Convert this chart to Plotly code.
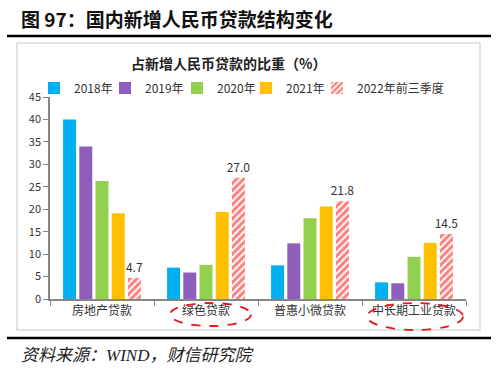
import plotly.graph_objects as go

categories = ["房地产贷款", "绿色贷款", "普惠小微贷款", "中长期工业贷款"]
series_names = ["2018年", "2019年", "2020年", "2021年", "2022年前三季度"]
v2018 = [40.0, 7.0, 7.5, 3.7]
v2019 = [34.0, 5.9, 12.4, 3.5]
v2020 = [26.3, 7.6, 18.0, 9.4]
v2021 = [19.1, 19.4, 20.6, 12.5]
v2022 = [4.7, 27.0, 21.8, 14.5]
y_ticks = [0, 5, 10, 15, 20, 25, 30, 35, 40, 45]

colors = ["#00B0F0", "#8E5EBD", "#92D050", "#FFC000", "#FF0000"]

W, H = 500, 377
L, R, T, B = 50, 466, 97, 299  # plot area in px

def px(x):
    return (x - L) / (R - L)

def py(y):
    return (B - y) / (B - T)

legend_ids = ["legend", "legend2", "legend3", "legend4", "legend5"]
legend_x = [34, 105, 177, 246, 317]

fig = go.Figure()
values = [v2018, v2019, v2020, v2021, v2022]
for i, (name, vals) in enumerate(zip(series_names, values)):
    if i < 4:
        fig.add_trace(go.Bar(x=categories, y=vals, name=name, legend=legend_ids[i],
                             marker=dict(color=colors[i], line=dict(width=0))))
    else:
        fig.add_trace(go.Bar(x=categories, y=vals, name=name, legend=legend_ids[i],
                             marker=dict(color="white", line=dict(width=0),
                                         pattern=dict(shape="/", fgcolor=colors[i],
                                                      bgcolor="white", size=5, solidity=0.6)),
                             text=[f"{v:.1f}" for v in vals], textposition="outside",
                             constraintext="none",
                             textfont=dict(size=12, color="#333333"), cliponaxis=False))

font_cjk = "Noto Sans CJK SC"
shapes = [
    dict(type="line", xref="paper", yref="paper", x0=px(7), x1=px(491), y0=py(36), y1=py(36),
         line=dict(color="black", width=2.5)),
    dict(type="line", xref="paper", yref="paper", x0=px(7), x1=px(491), y0=py(338), y1=py(338),
         line=dict(color="black", width=2.5)),
    dict(type="rect", xref="paper", yref="paper", x0=px(17), x1=px(480), y0=py(43), y1=py(330),
         line=dict(color="#D9D9D9", width=1.5), layer="below"),
    dict(type="circle", xref="paper", yref="paper", x0=px(170), x1=px(251), y0=py(303), y1=py(326),
         line=dict(color="#E8141C", width=1.8, dash="dash")),
    dict(type="circle", xref="paper", yref="paper", x0=px(367), x1=px(463), y0=py(303), y1=py(330),
         line=dict(color="#E8141C", width=1.8, dash="dash")),
]

annotations = [
    dict(text="<b>图 97：国内新增人民币贷款结构变化</b>", xref="paper", yref="paper",
         x=px(19), y=py(18), xanchor="left", yanchor="middle", showarrow=False,
         font=dict(size=19, color="#111111", family=font_cjk)),
    dict(text="<b>占新增人民币贷款的比重（%）</b>", xref="paper", yref="paper",
         x=px(228), y=py(63), xanchor="center", yanchor="middle", showarrow=False,
         font=dict(size=14, color="#222222", family=font_cjk)),
    dict(text="<i>资料来源：WIND，财信研究院</i>", xref="paper", yref="paper",
         x=px(19), y=py(355), xanchor="left", yanchor="middle", showarrow=False,
         font=dict(size=17, color="#222222", family="Liberation Serif, " + font_cjk)),
]

legend_common = dict(orientation="h", y=py(88), xanchor="left", yanchor="middle",
                     font=dict(size=12, color="#333333"), itemwidth=30,
                     tracegroupgap=0, bgcolor="rgba(0,0,0,0)")
legends = {lid: dict(x=px(lx), **legend_common) for lid, lx in zip(legend_ids, legend_x)}

fig.update_layout(
    width=W, height=H,
    margin=dict(l=L, r=W - R, t=T, b=H - B),
    paper_bgcolor="white", plot_bgcolor="white",
    barmode="group", bargap=0.22, bargroupgap=0.2,
    font=dict(family=font_cjk, size=12, color="#333333"),
    showlegend=True,
    shapes=shapes, annotations=annotations,
    xaxis=dict(showline=True, linecolor="#868686", linewidth=1.5, ticks="outside",
               tickson="boundaries", ticklen=5, tickcolor="#868686", showgrid=False,
               tickfont=dict(size=12, color="#333333")),
    yaxis=dict(range=[0, 45], tickvals=y_ticks, showline=True, linecolor="#868686",
               linewidth=1.5, ticks="outside", ticklen=5, tickcolor="#868686",
               showgrid=False, zeroline=False, tickfont=dict(size=11, color="#333333")),
    **legends,
)

fig.write_html("out.html", config={"displayModeBar": False},
               post_script="document.body.style.margin='0';document.body.style.overflow='hidden';")
